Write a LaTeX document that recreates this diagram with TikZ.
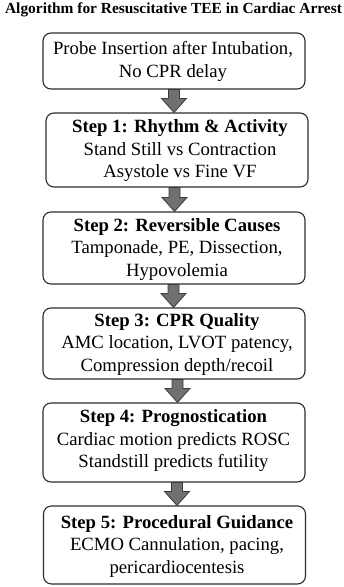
\documentclass[tikz,border=0pt]{standalone}
\usepackage{fontspec}
\setmainfont{LiberationSerif}[Extension=.ttf,UprightFont=*-Regular,BoldFont=*-Bold,ItalicFont=*-Italic,BoldItalicFont=*-BoldItalic]
\usetikzlibrary{calc}
\definecolor{boxline}{RGB}{45,45,45}
\definecolor{arrfill}{RGB}{112,112,112}
\definecolor{arrline}{RGB}{60,60,60}
\newcommand{\fatarr}[3]{%
  \filldraw[fatarrow] let \p1=(#1.south), \p2=(#2.north) in
    ({#3pt-5.5pt},\y1) -- ({#3pt-5.5pt},\y2+14pt) -- ({#3pt-12.5pt},\y2+14pt) --
    ({#3pt},\y2) -- ({#3pt+12.5pt},\y2+14pt) -- ({#3pt+5.5pt},\y2+14pt) --
    ({#3pt+5.5pt},\y1) -- cycle;}
\begin{document}
\begin{tikzpicture}[x=1pt,y=-1pt,
  box/.style={draw=boxline,line width=1.1pt,rounded corners=8pt,minimum width=262pt,inner sep=0pt,fill=white},
  txt/.style={align=center,font=\fontsize{18.7}{22.5}\selectfont,inner sep=0pt},
  fatarrow/.style={fill=arrfill,draw=arrline,line width=0.8pt,line join=miter}]
\useasboundingbox[fill=white] (0,0) rectangle (344,587);
\node[font=\bfseries\fontsize{15.4}{18}\selectfont,inner sep=0pt] (title) at (173.5,9.5) {Algorithm for Resuscitative TEE in Cardiac Arrest};

\node[box,minimum height=56pt] (b0) at (174,61) {};
\node[box,minimum height=74pt] (b1) at (177,150) {};
\node[box,minimum height=72pt] (b2) at (174,248) {};
\node[box,minimum height=71pt] (b3) at (174,343.5) {};
\node[box,minimum height=79pt] (b4) at (174,442.5) {};
\node[box,minimum height=78pt] (b5) at (174.5,545) {};

\node[txt] (t0) at (173,61.5) {Probe Insertion after Intubation,\\No CPR delay};
\node[txt] (t1) at (180,151) {\textbf{Step 1: Rhythm \& Activity}\\Stand Still vs Contraction\\Asystole vs Fine VF};
\node[txt] (t2) at (177,249.5) {\textbf{Step 2: Reversible Causes}\\Tamponade, PE, Dissection,\\Hypovolemia};
\node[txt] (t3) at (177,344) {\textbf{Step 3: CPR Quality}\\AMC location, LVOT patency,\\Compression depth/recoil};
\node[txt] (t4) at (173.5,441) {\textbf{Step 4: Prognostication}\\Cardiac motion predicts ROSC\\Standstill predicts futility};
\node[txt] (t5) at (177,546) {\textbf{Step 5: Procedural Guidance}\\ECMO Cannulation, pacing,\\pericardiocentesis};

\fatarr{b0}{b1}{174}
\fatarr{b1}{b2}{174.5}
\fatarr{b2}{b3}{173.5}
\fatarr{b3}{b4}{177.5}
\fatarr{b4}{b5}{177}
\end{tikzpicture}
\end{document}
